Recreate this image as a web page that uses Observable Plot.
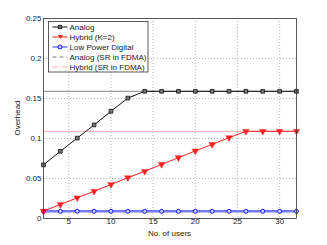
<!DOCTYPE html>
<html>
<head>
<meta charset="utf-8">
<script src="https://cdn.jsdelivr.net/npm/d3@7"></script>
<script src="https://cdn.jsdelivr.net/npm/@observablehq/plot@0.6"></script>
<style>
  html, body { margin: 0; padding: 0; background: #fff; }
  svg { font-family: "Liberation Sans", Arial, sans-serif; }
</style>
</head>
<body>
<div id="chart"></div>
<script>
const users = [2,4,6,8,10,12,14,16,18,20,22,24,26,28,30,32];
const analog = [0.067,0.084,0.1005,0.117,0.134,0.1505,0.159,0.159,0.159,0.159,0.159,0.159,0.159,0.159,0.159,0.159];
const hybrid = [0.0092,0.0175,0.0259,0.034,0.0425,0.051,0.059,0.0676,0.076,0.0845,0.0926,0.101,0.109,0.109,0.109,0.109];
const lowPower = [0.009,0.009,0.009,0.009,0.009,0.009,0.009,0.009,0.009,0.009,0.009,0.009,0.009,0.009,0.009,0.009];
const analogSR = 0.159;
const hybridSR = 0.109;
const xTicks = [5,10,15,20,25,30];
const yTicks = [0,0.05,0.1,0.15,0.2,0.25];
const yTickLabels = ["0","0.05","0.1","0.15","0.2","0.25"];
const xLabel = "No. of users";
const yLabel = "Overhead";
const seriesNames = ["Analog","Hybrid (K=2)","Low Power Digital","Analog (SR in FDMA)","Hybrid (SR in FDMA)"];

const rows = (vals) => users.map((u,i) => ({x:u, y:vals[i]}));
const aData = rows(analog), hData = rows(hybrid), lData = rows(lowPower);
const srLines = [
  {y: analogSR, stroke: "#666", dash: "5,3"},
  {y: hybridSR, stroke: "#ffaaaa", dash: "6,2,1,2"}
];

const W = 327, H = 245, ML = 43, MR = 31, MT = 18, MB = 27;

const chart = Plot.plot({
  width: W, height: H,
  marginLeft: ML, marginRight: MR, marginTop: MT, marginBottom: MB,
  style: {fontFamily: "Liberation Sans, Arial, sans-serif", fontSize: "8px", background: "#fff"},
  x: {domain: [2,32]},
  y: {domain: [0,0.25]},
  marks: [
    Plot.gridX(xTicks, {stroke: "#bbb", strokeOpacity: 1, strokeDasharray: "1,2"}),
    Plot.gridY(yTicks, {stroke: "#bbb", strokeOpacity: 1, strokeDasharray: "1,2"}),
    Plot.axisX(xTicks, {tickSize: 0, tickPadding: 0, label: null, fontSize: 8, color: "#222"}),
    Plot.axisY(yTicks, {tickSize: 0, tickPadding: 2, tickFormat: (d) => yTickLabels[yTicks.indexOf(d)], label: null, fontSize: 8, color: "#222"}),
    Plot.ruleY(srLines.slice(0,1), {y: "y", x1: 2, x2: 32, stroke: "stroke", strokeDasharray: "dash", strokeWidth: 0.8}),
    Plot.ruleY(srLines.slice(1), {y: "y", x1: 2, x2: 32, stroke: "stroke", strokeDasharray: "dash", strokeWidth: 1}),
    Plot.line(lData, {x: "x", y: "y", stroke: "#7777ff", strokeWidth: 2.5}),
    Plot.dot(lData, {x: "x", y: "y", r: 2, stroke: "#1a1aff", fill: "#ccccff", strokeWidth: 1}),
    Plot.line(hData, {x: "x", y: "y", stroke: "#ff2020", strokeWidth: 1}),
    Plot.dot(hData, {x: "x", y: "y", symbol: "triangle", rotate: 180, r: 2.4, fill: "#ff2020", stroke: "#ff2020", strokeWidth: 0.5}),
    Plot.line(aData, {x: "x", y: "y", stroke: "#111", strokeWidth: 1}),
    Plot.dot(aData, {x: "x", y: "y", symbol: "square", r: 2.1, fill: "#777", stroke: "#111", strokeWidth: 0.8}),
    Plot.frame({stroke: "#333", strokeWidth: 0.8})
  ]
});

const svg = d3.select(chart);
// Axis labels
svg.append("text").attr("x", ML + (W - ML - MR) / 2).attr("y", 236).attr("text-anchor", "middle")
  .attr("font-size", 8).attr("fill", "#222").text(xLabel);
svg.append("text").attr("transform", `translate(20,${MT + (H - MT - MB) / 2}) rotate(-90)`).attr("text-anchor", "middle")
  .attr("font-size", 8).attr("fill", "#222").text(yLabel);

// Legend (inside the plot, top-left)
const lg = svg.append("g").attr("transform", "translate(48.5,21.5)");
lg.append("rect").attr("width", 99.5).attr("height", 50.5).attr("fill", "#fff").attr("stroke", "#333").attr("stroke-width", 0.8);
const legendStyles = [
  {stroke: "#111", w: 1, dash: null, marker: "square"},
  {stroke: "#ff2020", w: 1, dash: null, marker: "triangle"},
  {stroke: "#3333ff", w: 1, dash: null, marker: "circle"},
  {stroke: "#666", w: 0.8, dash: "4,3", marker: null},
  {stroke: "#ffaaaa", w: 1, dash: "5,2,1,2", marker: null}
];
seriesNames.forEach((name, i) => {
  const cy = 5.5 + i * 10;
  const st = legendStyles[i];
  const ln = lg.append("line").attr("x1", 4).attr("x2", 19).attr("y1", cy).attr("y2", cy)
    .attr("stroke", st.stroke).attr("stroke-width", st.w);
  if (st.dash) ln.attr("stroke-dasharray", st.dash);
  if (st.marker === "square") lg.append("rect").attr("x", 9.8).attr("y", cy - 1.7).attr("width", 3.4).attr("height", 3.4).attr("fill", "#777").attr("stroke", "#111").attr("stroke-width", 0.8);
  if (st.marker === "triangle") lg.append("path").attr("d", `M${9.5},${cy-2} L${14.5},${cy-2} L${12},${cy+2} Z`).attr("fill", "#ff2020");
  if (st.marker === "circle") lg.append("circle").attr("cx", 11.5).attr("cy", cy).attr("r", 2).attr("fill", "#ccccff").attr("stroke", "#1a1aff");
  lg.append("text").attr("x", 21).attr("y", cy).attr("dy", "0.35em").attr("text-anchor", "start")
    .attr("font-size", 8).attr("fill", "#222").text(name);
});

document.getElementById("chart").appendChild(chart);
</script>
</body>
</html>
